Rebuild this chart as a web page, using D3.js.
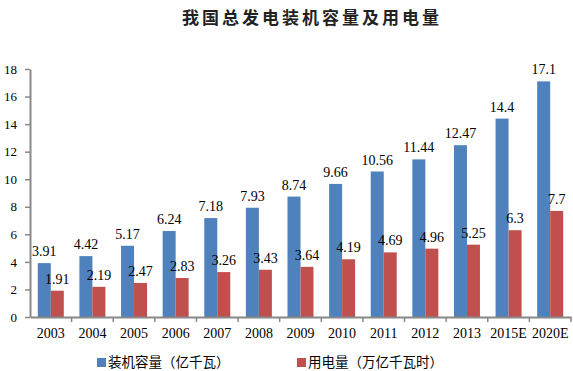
<!DOCTYPE html>
<html>
<head>
<meta charset="utf-8">
<script src="https://cdn.jsdelivr.net/npm/d3@7"></script>
<style>
  body { margin: 0; background: #fff; }
  svg text { font-family: "Liberation Serif", "Times New Roman", serif; }
  svg text.cjk { font-family: "Noto Sans CJK SC", sans-serif; }
</style>
</head>
<body>
<svg id="chart"></svg>
<script>
var viewWidth = 573;
var viewHeight = 371;

var years = ["2003", "2004", "2005", "2006", "2007", "2008", "2009", "2010", "2011", "2012", "2013", "2015E", "2020E"];
var capacity = [3.91, 4.42, 5.17, 6.24, 7.18, 7.93, 8.74, 9.66, 10.56, 11.44, 12.47, 14.4, 17.1];
var usage = [1.91, 2.19, 2.47, 2.83, 3.26, 3.43, 3.64, 4.19, 4.69, 4.96, 5.25, 6.3, 7.7];
var yTicks = [0, 2, 4, 6, 8, 10, 12, 14, 16, 18];
var seriesNames = ["装机容量（亿千瓦）", "用电量（万亿千瓦时）"];
var colors = ["#4F81BD", "#C0504D"];

var margin = {top: 69, right: 2, bottom: 54, left: 30};
var width = viewWidth - margin.left - margin.right;
var height = viewHeight - margin.top - margin.bottom;

var svg = d3.select("#chart")
    .attr("width", viewWidth)
    .attr("height", viewHeight);

svg.append("text")
    .attr("class", "cjk")
    .attr("x", 312)
    .attr("y", 24)
    .attr("text-anchor", "middle")
    .style("font-size", "17px")
    .style("font-weight", "bold")
    .style("letter-spacing", "3px")
    .style("fill", "#222")
    .text("我国总发电装机容量及用电量");

var g = svg.append("g")
    .attr("transform", "translate(" + margin.left + "," + margin.top + ")");

var x = d3.scaleBand()
  .domain(years)
  .range([0, width]);
var y = d3.scaleLinear()
  .domain([0, 18])
  .range([height, 0]);

var barW = 13;
var series = [capacity, usage];

series.forEach(function(vals, si) {
  var bars = g.selectAll(".bar" + si)
    .data(years)
    .enter();

  bars.append("rect")
    .attr("class", "bar" + si)
    .attr("x", function(d) { return x(d) + x.bandwidth() / 2 - barW + si * barW; })
    .attr("y", function(d, i) { return y(vals[i]); })
    .attr("width", barW)
    .attr("height", function(d, i) { return height - y(vals[i]); })
    .style("fill", colors[si]);

  bars.append("text")
    .attr("x", function(d) { return x(d) + x.bandwidth() / 2 - barW / 2 + si * barW; })
    .attr("y", function(d, i) { return y(vals[i]) - 7; })
    .attr("text-anchor", "middle")
    .style("font-size", "14px")
    .style("font-family", "'Liberation Serif', serif")
    .style("fill", "#000")
    .text(function(d, i) { return vals[i]; });
});

// y axis
var yAxis = g.append("g")
    .call(d3.axisLeft(y).tickValues(yTicks).tickSize(5).tickSizeOuter(0));
yAxis.attr("font-family", null);
yAxis.select(".domain").attr("stroke", "#888").attr("stroke-width", 2);
yAxis.selectAll(".tick line").attr("stroke", "#888").attr("stroke-width", 1.5);
yAxis.selectAll(".tick text")
    .attr("x", -13)
    .style("font-size", "13px")
    .style("font-family", "'Liberation Serif', serif")
    .style("fill", "#000");

// x axis
var xAxis = g.append("g")
    .attr("transform", "translate(0," + height + ")")
    .call(d3.axisBottom(x).tickSize(0).tickSizeOuter(0));
xAxis.attr("font-family", null);
xAxis.select(".domain").attr("stroke", "#888").attr("stroke-width", 2);
xAxis.selectAll(".tick text")
    .attr("y", 11)
    .style("font-size", "14px")
    .style("font-family", "'Liberation Serif', serif")
    .style("fill", "#000");

g.append("g")
  .selectAll("line")
  .data(years)
  .enter().append("line")
    .attr("x1", function(d) { return x(d) + x.bandwidth(); })
    .attr("x2", function(d) { return x(d) + x.bandwidth(); })
    .attr("y1", height)
    .attr("y2", height + 5)
    .attr("stroke", "#888")
    .attr("stroke-width", 1.5);

// legend
var legendX = [97, 297];
seriesNames.forEach(function(name, i) {
  svg.append("rect")
    .attr("x", legendX[i])
    .attr("y", 358)
    .attr("width", 9)
    .attr("height", 9)
    .style("fill", colors[i]);
  svg.append("text")
    .attr("class", "cjk")
    .attr("x", legendX[i] + 11)
    .attr("y", 367)
    .style("font-size", "13.5px")
    .style("fill", "#000")
    .text(name);
});
</script>
</body>
</html>
